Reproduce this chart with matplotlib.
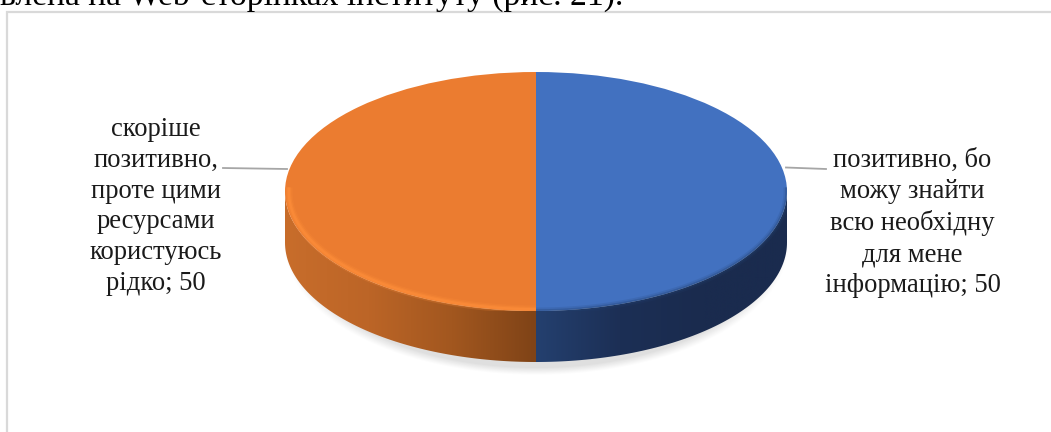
import numpy as np
import matplotlib
matplotlib.use('Agg')
import matplotlib.pyplot as plt
from matplotlib.colors import LinearSegmentedColormap
from matplotlib.patches import Polygon

labels = ['позитивно, бо\nможу знайти\nвсю необхідну\nдля мене\nінформацію',
          'скоріше\nпозитивно,\nпроте цими\nресурсами\nкористуюсь\nрідко']
values = [50, 50]
colors = ['#4271C0', '#EB7C30']
caption = 'влена на Web-сторінках інституту (рис. 21).'

W, H = 1051, 432
cx, cy, rx, ry, depth = 536, 191.5, 251, 119.5, 51

plt.rcParams['font.family'] = ['Liberation Serif', 'DejaVu Sans']

fig = plt.figure(figsize=(W / 100, H / 100), dpi=100)

# background axes in pixel coordinates
ax = fig.add_axes([0, 0, 1, 1])
ax.set_xlim(0, W)
ax.set_ylim(H, 0)
ax.axis('off')

ax.plot([7, 7, W + 5], [H + 5, 11.5, 11.5], color='#d9d9d9', lw=1.6, solid_joinstyle='miter')
ax.text(0, 4.5, caption, fontsize=24.2, color='black', va='baseline', ha='left')

# soft shadow under the pie
xx, yy = np.meshgrid(np.arange(W), np.arange(H))
rr = np.sqrt(((xx - cx) / (rx + 2)) ** 2 + ((yy - (cy + depth + 1)) / (ry + 12)) ** 2)
shadow = 0.13 * np.clip((1.0 - rr) / 0.06, 0, 1) ** 1.2
rgba = np.zeros((H, W, 4))
rgba[..., :3] = 0.05
rgba[..., 3] = shadow
ax.imshow(rgba, extent=(0, W, H, 0), aspect='auto', zorder=1, interpolation='bilinear')

# side wall, one gradient per slice
side_cmaps = [['#24406F', '#1C2F55', '#1A2B4E', '#1A2B4E'],
              ['#7F4317', '#A2571F', '#BC6527', '#C86D2B']]
start = 90.0
slices = []
for val in values:
    sweep = 360.0 * val / sum(values)
    slices.append((start - sweep, start))
    start -= sweep

for (t0, t1), cols in zip(slices, side_cmaps):
    t0n, t1n = np.mod(t0, 360), np.mod(t1, 360)
    if t0n == 270:
        t = np.radians(np.linspace(270, 360, 80))
        x_from, x_to = cx, cx + rx
    else:
        t = np.radians(np.linspace(180, 270, 80))
        x_from, x_to = cx, cx - rx
    x = cx + rx * np.cos(t)
    y = cy - ry * np.sin(t)
    pts = np.column_stack([np.r_[x, x[::-1]], np.r_[y, y[::-1] + depth]])
    cm = LinearSegmentedColormap.from_list('side', cols)
    grad = np.linspace(0, 1, 256).reshape(1, -1)
    im = ax.imshow(grad, cmap=cm, extent=(x_from, x_to, cy + depth + ry + 1, cy), aspect='auto', zorder=2)
    im.set_clip_path(Polygon(pts, transform=ax.transData))
ax.set_xlim(0, W)
ax.set_ylim(H, 0)

# leader lines
ax.plot([223, 287], [168, 169], color='#a6a6a6', lw=1.3, zorder=3)
ax.plot([786, 826], [167.5, 169], color='#a6a6a6', lw=1.3, zorder=3)

# data labels
ax.text(912.5, 223, f'{labels[0]}; {values[0]}', fontsize=19.2, ha='center', va='center',
        linespacing=1.31, color='#1a1a1a', zorder=4)
ax.text(156, 206.5, f'{labels[1]}; {values[1]}', fontsize=19.2, ha='center', va='center',
        linespacing=1.31, color='#1a1a1a', zorder=4)

# top face of the pie
pie_ax = fig.add_axes([(cx - rx) / W, 1 - (cy + ry) / H, 2 * rx / W, 2 * ry / H], zorder=2)
pie_ax.patch.set_alpha(0)
pie_ax.pie(values, colors=colors, startangle=90, counterclock=False, radius=1.0,
           wedgeprops={'linewidth': 0})
pie_ax.set_aspect('auto')
pie_ax.set_xlim(-1, 1)
pie_ax.set_ylim(-1, 1)

# bevel along the rim
t = np.radians(np.linspace(178, 270, 120))
for r, lw, a in [(0.985, 5.5, 0.2), (0.985, 3.5, 0.35), (0.985, 1.8, 0.5)]:
    pie_ax.plot(r * np.cos(t), r * np.sin(t), color='#FF8F3A', lw=lw, alpha=a, solid_capstyle='butt')
t = np.radians(np.linspace(270, 362, 120))
for r, lw, a in [(1.0, 5.0, 0.15), (1.0, 2.6, 0.3)]:
    pie_ax.plot(r * np.cos(t), r * np.sin(t), color='#22406F', lw=lw, alpha=a, solid_capstyle='butt')

fig.savefig('out.png', dpi=100)
